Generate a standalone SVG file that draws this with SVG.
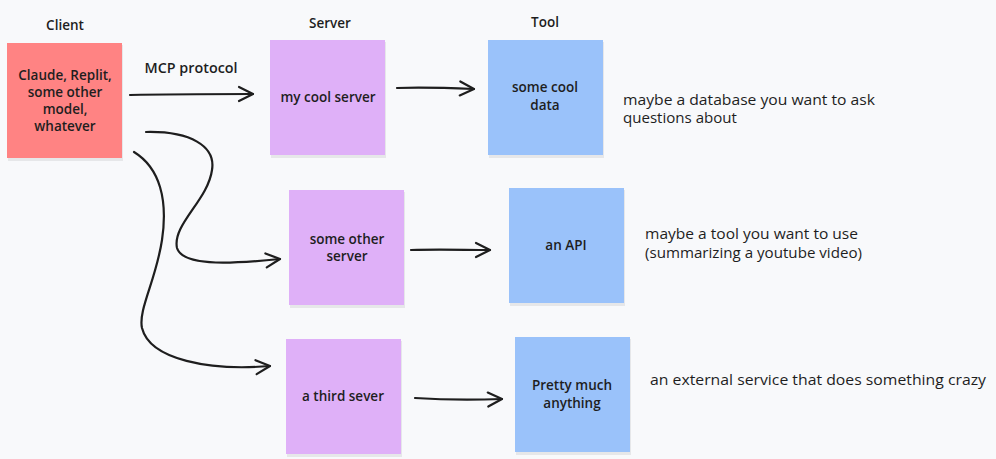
<svg xmlns="http://www.w3.org/2000/svg" width="996" height="459" viewBox="0 0 996 459">
<defs>
<style>
.bg{fill:#f8f9fb}
.client{fill:#ff8383}
.server{fill:#dfb0f8}
.tool{fill:#9ac2fa}
.shadow{fill:#000;opacity:0.07}
.box{font-family:"Open Sans","Liberation Sans",sans-serif;font-size:13.5px;font-weight:600;fill:#1e1e1e;text-anchor:middle}
.head{font-family:"Open Sans","Liberation Sans",sans-serif;font-size:13.5px;font-weight:600;fill:#1e1e1e;text-anchor:middle}
.note{font-family:"Open Sans","Liberation Sans",sans-serif;font-size:14px;font-weight:500;fill:#1e1e1e}
.conn{fill:none;stroke:#1e1e1e;stroke-width:2.2;stroke-linecap:round;stroke-linejoin:round}
</style>
<marker id="arr" viewBox="0 0 20 20" refX="18" refY="10" markerWidth="20" markerHeight="20" markerUnits="userSpaceOnUse" orient="auto">
<path d="M4,3 L18,10 L4,17" fill="none" stroke="#1e1e1e" stroke-width="2.2" stroke-linecap="round" stroke-linejoin="round"/>
</marker>
</defs>
<rect class="bg" x="0" y="0" width="996" height="459"/>

<text class="head" x="65" y="30">Client</text>
<text class="head" x="330" y="28">Server</text>
<text class="head" x="545" y="27">Tool</text>

<g id="client">
<rect class="shadow" x="8" y="45" width="115" height="116"/>
<rect class="client" x="7" y="43" width="115" height="115"/>
<text class="box" x="65" y="80">Claude, Replit,</text>
<text class="box" x="65" y="97">some other</text>
<text class="box" x="65" y="114">model,</text>
<text class="box" x="65" y="131">whatever</text>
</g>

<g id="server1">
<rect class="shadow" x="271" y="42" width="115" height="116"/>
<rect class="server" x="270" y="40" width="115" height="115"/>
<text class="box" x="328" y="102">my cool server</text>
</g>

<g id="tool1">
<rect class="shadow" x="489" y="42" width="115" height="116"/>
<rect class="tool" x="488" y="40" width="115" height="115"/>
<text class="box" x="545" y="92">some cool</text>
<text class="box" x="545" y="110">data</text>
</g>

<g id="server2">
<rect class="shadow" x="290" y="192" width="115" height="116"/>
<rect class="server" x="289" y="190" width="115" height="115"/>
<text class="box" x="347" y="244">some other</text>
<text class="box" x="347" y="261">server</text>
</g>

<g id="tool2">
<rect class="shadow" x="510" y="190" width="115" height="116"/>
<rect class="tool" x="509" y="188" width="115" height="115"/>
<text class="box" x="566" y="250">an API</text>
</g>

<g id="server3">
<rect class="shadow" x="287" y="341" width="115" height="116"/>
<rect class="server" x="286" y="339" width="115" height="115"/>
<text class="box" x="343" y="401">a third sever</text>
</g>

<g id="tool3">
<rect class="shadow" x="516" y="339" width="115" height="116"/>
<rect class="tool" x="515" y="337" width="115" height="115"/>
<text class="box" x="572" y="390">Pretty much</text>
<text class="box" x="572" y="408">anything</text>
</g>

<g id="notes">
<text class="note" x="623" y="105" textLength="252" lengthAdjust="spacingAndGlyphs">maybe a database you want to ask</text>
<text class="note" x="623" y="123" textLength="114" lengthAdjust="spacingAndGlyphs">questions about</text>
<text class="note" x="645" y="239" textLength="213" lengthAdjust="spacingAndGlyphs">maybe a tool you want to use</text>
<text class="note" x="645" y="258" textLength="217" lengthAdjust="spacingAndGlyphs">(summarizing a youtube video)</text>
<text class="note" x="650" y="385" textLength="336" lengthAdjust="spacingAndGlyphs">an external service that does something crazy</text>
</g>

<g id="connectors">
<path class="conn" d="M130,95 C170,94 215,94 253,94" marker-end="url(#arr)"/>
<text class="head" x="191" y="73" textLength="93" lengthAdjust="spacingAndGlyphs">MCP protocol</text>
<path class="conn" d="M397,88 C425,87 450,88 474,89" marker-end="url(#arr)"/>
<path class="conn" d="M146,132 C190,131 216,146 212,170 C208,200 172,225 177,248 C183,268 240,263 280,259" marker-end="url(#arr)"/>
<path class="conn" d="M134,152 C160,168 168,200 162,240 C156,280 138,310 142,328 C150,360 210,371 270,366" marker-end="url(#arr)"/>
<path class="conn" d="M411,250 C440,249 465,250 490,250" marker-end="url(#arr)"/>
<path class="conn" d="M415,398 C445,400 475,400 502,399" marker-end="url(#arr)"/>
</g>
</svg>
